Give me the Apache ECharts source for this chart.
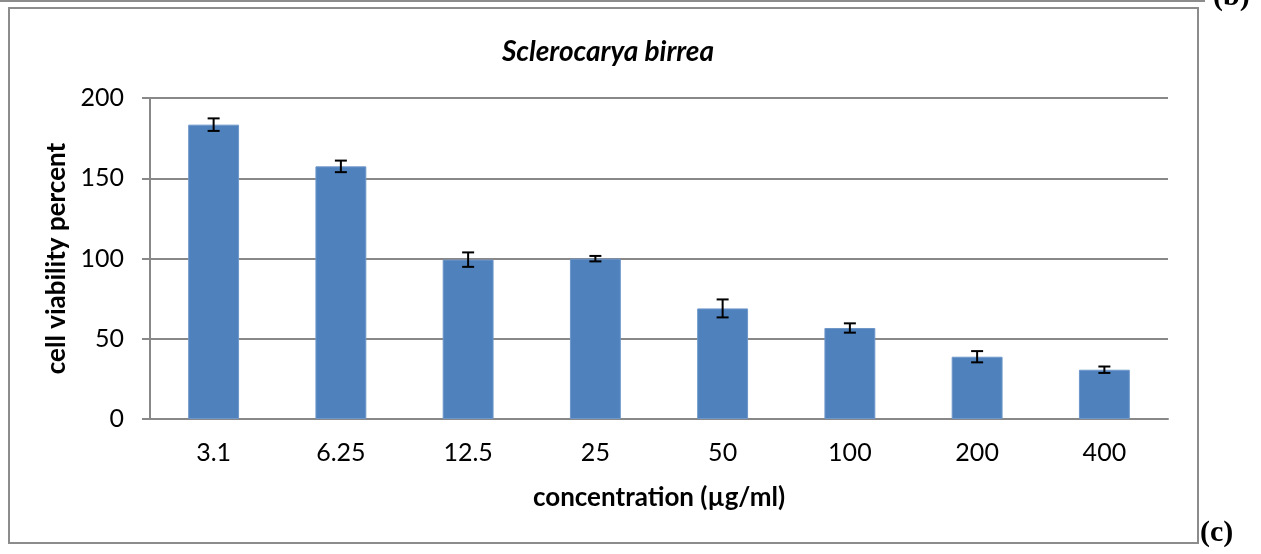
<!DOCTYPE html>
<html>
<head>
<meta charset="utf-8">
<script src="https://cdn.jsdelivr.net/npm/echarts@6/dist/echarts.min.js"></script>
<style>
  html, body { margin: 0; padding: 0; background: #fff; }
  #chart { width: 1261px; height: 554px; }
</style>
</head>
<body>
<div id="chart"></div>
<script>
// concentrations (µg/ml) and measured viability with error
const concentrations = ['3.1', '6.25', '12.5', '25', '50', '100', '200', '400'];
const viability = [183.4, 157.4, 99.3, 99.9, 68.9, 56.7, 38.8, 30.7];
const viabilityErr = [3.9, 3.6, 4.5, 1.7, 5.6, 2.9, 3.5, 2.0];
const yTicks = [0, 50, 100, 150, 200];

const chart = echarts.init(document.getElementById('chart'));

const font = 'Lato, "Open Sans", sans-serif';

const option = {
  animation: false,
  title: {
    text: 'Sclerocarya birrea',
    left: 603,
    top: 33,
    textAlign: 'center',
    textStyle: { fontFamily: font, fontSize: 28, fontWeight: 'bold', fontStyle: 'italic', color: '#000' }
  },
  grid: { left: 150, right: 93, top: 98, bottom: 135 },
  xAxis: {
    type: 'category',
    data: concentrations,
    axisLine: { lineStyle: { color: '#888', width: 2 } },
    axisTick: { show: false },
    axisLabel: { fontFamily: font, fontSize: 25, color: '#000', margin: 21 },
    name: 'concentration (µg/ml)',
    nameLocation: 'middle',
    nameGap: 66,
    nameTextStyle: { fontFamily: font, fontSize: 26, fontWeight: 'bold', color: '#000' }
  },
  yAxis: {
    type: 'value',
    min: yTicks[0],
    max: yTicks[yTicks.length - 1],
    interval: 50,
    axisLine: { show: true, lineStyle: { color: '#888', width: 2 } },
    axisTick: { show: true, length: 8, lineStyle: { color: '#888', width: 2 } },
    splitLine: { lineStyle: { color: '#888', width: 2 } },
    axisLabel: { fontFamily: font, fontSize: 25, color: '#000', margin: 26 },
    name: 'cell viability percent',
    nameLocation: 'middle',
    nameGap: 77,
    nameTextStyle: { fontFamily: font, fontSize: 26, fontWeight: 'bold', color: '#000' }
  },
  graphic: [
    { type: 'rect', shape: { x: 9, y: 8, width: 1189, height: 535 }, style: { fill: 'none', stroke: '#8c8c8c', lineWidth: 2 }, z: -1 },
    { type: 'line', shape: { x1: 0, y1: 1, x2: 1204, y2: 1 }, style: { stroke: '#8c8c8c', lineWidth: 2 } },
    { type: 'line', shape: { x1: 1204, y1: 0, x2: 1204, y2: 2 }, style: { stroke: '#8c8c8c', lineWidth: 2 } },
    { type: 'text', left: 1213, top: -18, style: { text: '(b)', font: 'bold 30px "Liberation Serif", serif', fill: '#000' } },
    { type: 'text', left: 1200, top: 518, style: { text: '(c)', font: 'bold 30px "Liberation Serif", serif', fill: '#000' } }
  ],
  series: [
    {
      type: 'bar',
      data: viability,
      barWidth: '40%',
      itemStyle: { color: '#4f81bd', borderColor: '#6f97c9', borderWidth: 1 }
    },
    {
      type: 'custom',
      data: viability.map((v, i) => [i, v, viabilityErr[i]]),
      z: 5,
      renderItem: function (params, api) {
        const x = api.value(0);
        const v = api.value(1);
        const e = api.value(2);
        const hi = api.coord([x, v + e]);
        const lo = api.coord([x, v - e]);
        const cap = 6;
        const style = { stroke: '#000', lineWidth: 2 };
        return {
          type: 'group',
          children: [
            { type: 'line', shape: { x1: hi[0], y1: hi[1], x2: lo[0], y2: lo[1] }, style },
            { type: 'line', shape: { x1: hi[0] - cap, y1: hi[1], x2: hi[0] + cap, y2: hi[1] }, style },
            { type: 'line', shape: { x1: lo[0] - cap, y1: lo[1], x2: lo[0] + cap, y2: lo[1] }, style }
          ]
        };
      }
    }
  ]
};

chart.setOption(option);
</script>
</body>
</html>
